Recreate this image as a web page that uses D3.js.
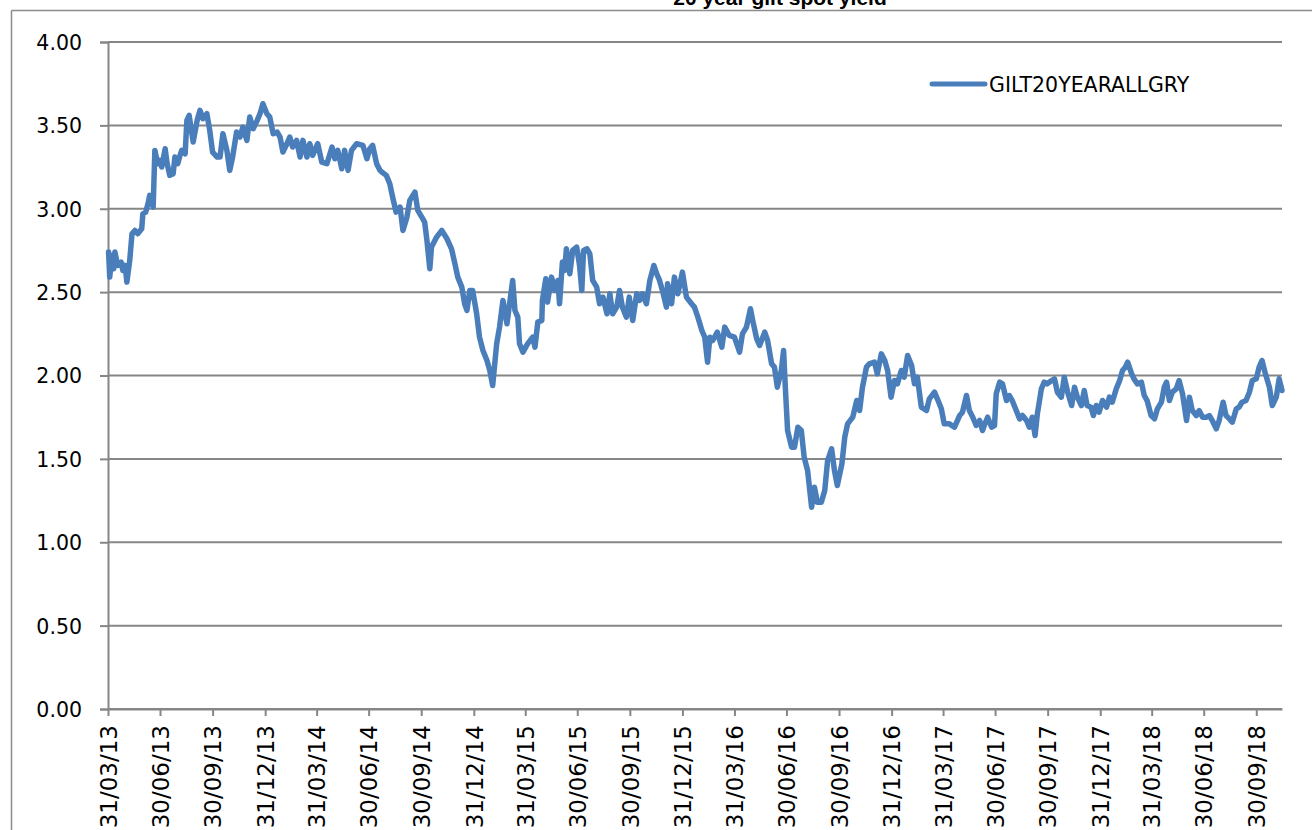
<!DOCTYPE html>
<html>
<head>
<meta charset="utf-8">
<script src="https://cdn.jsdelivr.net/npm/d3@7"></script>
<style>
  body { margin: 0; background: #fff; }
  svg { display: block; }
</style>
</head>
<body>
<div class="graphContainer"></div>
<script>
// 20 year gilt spot yield (roughly weekly)
var dates = [
  "2013-04-01","2013-04-03","2013-04-07","2013-04-10","2013-04-12","2013-04-17","2013-04-23","2013-04-26","2013-04-30",
  "2013-05-03","2013-05-08","2013-05-12","2013-05-17","2013-05-22","2013-05-29","2013-05-31",
  "2013-06-05","2013-06-09","2013-06-12","2013-06-18","2013-06-21","2013-06-26","2013-06-30",
  "2013-07-03","2013-07-09","2013-07-12","2013-07-17","2013-07-23","2013-07-26","2013-07-31",
  "2013-08-04","2013-08-07","2013-08-13","2013-08-16","2013-08-20","2013-08-27",
  "2013-09-03","2013-09-08","2013-09-13","2013-09-20","2013-09-25","2013-09-30",
  "2013-10-08","2013-10-13","2013-10-18","2013-10-25","2013-10-30",
  "2013-11-04","2013-11-11","2013-11-17","2013-11-22","2013-11-29",
  "2013-12-04","2013-12-10","2013-12-17","2013-12-22","2013-12-27",
  "2014-01-03","2014-01-08","2014-01-14","2014-01-21","2014-01-26","2014-01-31",
  "2014-02-07","2014-02-12","2014-02-17","2014-02-24",
  "2014-03-02","2014-03-07","2014-03-14","2014-03-19","2014-03-24",
  "2014-04-02","2014-04-09","2014-04-18","2014-04-27",
  "2014-05-02","2014-05-07","2014-05-14","2014-05-19","2014-05-25","2014-05-31",
  "2014-06-09","2014-06-20","2014-06-27",
  "2014-07-02","2014-07-07","2014-07-14","2014-07-20","2014-07-23","2014-07-31",
  "2014-08-06","2014-08-11","2014-08-17","2014-08-24","2014-08-29",
  "2014-09-05","2014-09-10","2014-09-19","2014-09-24",
  "2014-10-01","2014-10-06","2014-10-10","2014-10-15","2014-10-18","2014-10-27",
  "2014-11-05","2014-11-14","2014-11-22","2014-11-28",
  "2014-12-03","2014-12-10","2014-12-15","2014-12-19","2014-12-24","2014-12-29",
  "2015-01-05","2015-01-10","2015-01-16","2015-01-23","2015-01-28",
  "2015-02-02","2015-02-09","2015-02-14","2015-02-20","2015-02-27",
  "2015-03-09","2015-03-13","2015-03-18","2015-03-21","2015-03-27",
  "2015-04-04","2015-04-13","2015-04-17","2015-04-22","2015-04-29","2015-04-30",
  "2015-05-06","2015-05-09","2015-05-16","2015-05-22","2015-05-27","2015-05-30",
  "2015-06-04","2015-06-08","2015-06-11","2015-06-17","2015-06-22","2015-06-29",
  "2015-07-04","2015-07-08","2015-07-11","2015-07-17","2015-07-22","2015-07-27",
  "2015-08-03","2015-08-08","2015-08-14","2015-08-21","2015-08-26","2015-08-31",
  "2015-09-07","2015-09-12","2015-09-17","2015-09-24","2015-09-29",
  "2015-10-05","2015-10-12","2015-10-17","2015-10-22","2015-10-29",
  "2015-11-04","2015-11-11","2015-11-16","2015-11-21","2015-11-26",
  "2015-12-03","2015-12-05","2015-12-12","2015-12-17","2015-12-23","2015-12-31",
  "2016-01-07","2016-01-16","2016-01-21","2016-01-27",
  "2016-02-03","2016-02-08","2016-02-13","2016-02-17","2016-02-22",
  "2016-03-01","2016-03-09","2016-03-14","2016-03-22","2016-03-31",
  "2016-04-09","2016-04-14","2016-04-21","2016-04-28",
  "2016-05-02","2016-05-09","2016-05-14","2016-05-23","2016-05-28",
  "2016-06-04","2016-06-09","2016-06-14","2016-06-21","2016-06-25","2016-06-28",
  "2016-07-02","2016-07-09","2016-07-14","2016-07-20","2016-07-26","2016-07-31",
  "2016-08-06","2016-08-13","2016-08-18","2016-08-23","2016-08-30",
  "2016-09-05","2016-09-10","2016-09-17","2016-09-22","2016-09-27",
  "2016-10-05","2016-10-10","2016-10-15","2016-10-24","2016-10-31",
  "2016-11-05","2016-11-10","2016-11-17","2016-11-22",
  "2016-12-01","2016-12-06","2016-12-13","2016-12-19","2016-12-24","2016-12-30",
  "2017-01-05","2017-01-10","2017-01-17","2017-01-22","2017-01-28",
  "2017-02-04","2017-02-09","2017-02-14","2017-02-21",
  "2017-03-02","2017-03-07","2017-03-16","2017-03-21","2017-03-28",
  "2017-04-02","2017-04-11","2017-04-20","2017-04-29",
  "2017-05-04","2017-05-11","2017-05-16","2017-05-22","2017-05-28",
  "2017-06-03","2017-06-08","2017-06-11","2017-06-17","2017-06-24","2017-06-29",
  "2017-07-02","2017-07-08","2017-07-13","2017-07-20","2017-07-25","2017-07-30",
  "2017-08-06","2017-08-12","2017-08-17","2017-08-24","2017-08-29",
  "2017-09-03","2017-09-08","2017-09-12","2017-09-19","2017-09-24","2017-09-29",
  "2017-10-07","2017-10-12","2017-10-17","2017-10-24","2017-10-29",
  "2017-11-04","2017-11-11","2017-11-16","2017-11-21","2017-11-28",
  "2017-12-03","2017-12-08","2017-12-15","2017-12-19","2017-12-24","2017-12-29",
  "2018-01-04","2018-01-11","2018-01-16","2018-01-21","2018-01-28",
  "2018-02-03","2018-02-08","2018-02-13","2018-02-17","2018-02-24","2018-02-28",
  "2018-03-06","2018-03-13","2018-03-18","2018-03-23","2018-03-30",
  "2018-04-05","2018-04-10","2018-04-17","2018-04-22","2018-04-26",
  "2018-05-01","2018-05-06","2018-05-13","2018-05-18","2018-05-24","2018-05-31",
  "2018-06-05","2018-06-10","2018-06-17","2018-06-22","2018-06-28",
  "2018-07-05","2018-07-10","2018-07-15","2018-07-22","2018-07-27",
  "2018-08-03","2018-08-08","2018-08-14","2018-08-19","2018-08-26","2018-08-31",
  "2018-09-05","2018-09-12","2018-09-18","2018-09-23","2018-09-30",
  "2018-10-05","2018-10-10","2018-10-16","2018-10-23","2018-10-28",
  "2018-11-04","2018-11-09","2018-11-14"
];

var yields = [
  2.74,2.59,2.72,2.64,2.74,2.66,2.68,2.63,2.66,
  2.56,2.69,2.85,2.87,2.85,2.88,2.97,
  2.98,3.03,3.08,3.01,3.35,3.27,3.29,
  3.25,3.36,3.28,3.20,3.21,3.31,3.27,
  3.32,3.35,3.33,3.53,3.56,3.40,
  3.53,3.59,3.54,3.57,3.47,3.34,
  3.31,3.31,3.45,3.35,3.23,
  3.31,3.46,3.43,3.49,3.41,
  3.55,3.48,3.53,3.57,3.63,
  3.57,3.55,3.45,3.46,3.43,3.34,
  3.39,3.43,3.37,3.41,
  3.31,3.41,3.31,3.39,3.32,
  3.39,3.28,3.27,3.37,
  3.30,3.35,3.24,3.35,3.23,3.35,
  3.39,3.38,3.30,
  3.36,3.38,3.27,3.23,3.22,3.20,
  3.15,3.07,2.98,3.01,2.87,
  2.95,3.05,3.10,2.99,
  2.95,2.92,2.81,2.64,2.77,2.83,
  2.87,2.82,2.76,2.67,
  2.59,2.53,2.43,2.39,2.51,2.51,
  2.37,2.23,2.15,2.09,2.03,
  1.94,2.19,2.29,2.45,2.31,
  2.57,2.39,2.35,2.19,2.14,
  2.19,2.23,2.17,2.32,2.33,2.45,
  2.58,2.44,2.59,2.51,2.57,2.43,
  2.68,2.63,2.76,2.61,2.75,2.77,
  2.66,2.51,2.75,2.76,2.73,2.57,
  2.53,2.43,2.47,2.37,2.49,2.37,
  2.41,2.51,2.41,2.35,2.47,
  2.33,2.49,2.45,2.49,2.43,
  2.57,2.66,2.61,2.57,2.51,
  2.41,2.55,2.43,2.59,2.49,2.62,
  2.47,2.43,2.41,2.35,
  2.27,2.23,2.08,2.23,2.21,
  2.26,2.17,2.29,2.24,2.23,
  2.14,2.25,2.29,2.40,
  2.33,2.22,2.18,2.26,2.21,
  2.07,2.05,1.93,2.03,2.15,1.93,
  1.67,1.57,1.57,1.69,1.67,1.51,
  1.43,1.21,1.33,1.24,1.24,
  1.31,1.49,1.56,1.43,1.34,
  1.47,1.63,1.71,1.75,1.85,
  1.79,1.93,2.05,2.07,
  2.08,2.01,2.13,2.09,2.03,1.87,
  1.97,1.95,2.03,1.99,2.12,
  2.06,1.95,1.99,1.81,
  1.79,1.86,1.90,1.86,1.80,
  1.71,1.71,1.69,1.76,
  1.78,1.88,1.79,1.75,1.70,
  1.73,1.67,1.70,1.75,1.69,1.70,
  1.89,1.96,1.95,1.85,1.88,1.85,
  1.79,1.74,1.76,1.73,1.69,
  1.75,1.64,1.77,1.92,1.96,1.95,
  1.97,1.98,1.90,1.87,1.99,
  1.90,1.82,1.93,1.87,1.82,
  1.91,1.82,1.81,1.76,1.82,1.78,
  1.85,1.81,1.87,1.84,1.92,
  1.97,2.03,2.05,2.08,2.01,1.98,
  1.95,1.96,1.88,1.85,1.76,
  1.74,1.80,1.84,1.93,1.96,
  1.85,1.90,1.92,1.97,1.89,1.73,
  1.87,1.79,1.76,1.79,1.75,
  1.75,1.76,1.73,1.68,1.73,
  1.84,1.76,1.74,1.72,1.80,1.81,
  1.84,1.85,1.90,1.97,1.98,
  2.05,2.09,2.01,1.93,1.82,
  1.87,1.98,1.91
];

var tickLabels = [
  "31/03/13","30/06/13","30/09/13","31/12/13","31/03/14","30/06/14","30/09/14","31/12/14",
  "31/03/15","30/06/15","30/09/15","31/12/15","31/03/16","30/06/16","30/09/16","31/12/16",
  "31/03/17","30/06/17","30/09/17","31/12/17","31/03/18","30/06/18","30/09/18"
];
var yTicks = [0, 0.5, 1, 1.5, 2, 2.5, 3, 3.5, 4];
var seriesName = "GILT20YEARALLGRY";
var chartTitle = "20 year gilt spot yield";
var axisStart = "2013-03-31";
var axisEnd = "2018-11-14";

var width = 1312;
var height = 830;
var plotLeft = 108, plotRight = 1282, plotTop = 42, plotBottom = 709;
var gridColor = "#868686";
var lineColor = "#4a7ebb";
var font = "'DejaVu Sans', sans-serif";

var parseIso = d3.utcParse("%Y-%m-%d");
var parseTick = d3.utcParse("%d/%m/%y");

var data = dates.map((d, i) => ({ date: parseIso(d), value: yields[i] }));

var svg = d3
  .select(".graphContainer")
  .append("svg")
  .attr("width", width)
  .attr("height", height);

// chart frame (top and left edges visible)
svg.append("line")
  .attr("x1", 11.5).attr("x2", width)
  .attr("y1", 10.5).attr("y2", 10.5)
  .attr("stroke", "#8c8c8c").attr("stroke-width", 1.5);
svg.append("line")
  .attr("x1", 11.5).attr("x2", 11.5)
  .attr("y1", 10.5).attr("y2", height)
  .attr("stroke", "#8c8c8c").attr("stroke-width", 1.5);

// title, mostly cut off at the top
svg.append("text")
  .attr("x", 780)
  .attr("y", 5)
  .attr("text-anchor", "middle")
  .style("font-family", "'Liberation Sans', Arial, sans-serif")
  .style("font-weight", "bold")
  .style("font-size", "21px")
  .text(chartTitle);

var xScale = d3.scaleUtc()
  .domain([parseIso(axisStart), parseIso(axisEnd)])
  .range([plotLeft, plotRight]);

var yScale = d3.scaleLinear().domain([0, 4]).range([plotBottom, plotTop]);

// horizontal gridlines
svg.append("g")
  .selectAll("line")
  .data(yTicks)
  .enter()
  .append("line")
  .attr("x1", plotLeft)
  .attr("x2", plotRight)
  .attr("y1", (d) => yScale(d))
  .attr("y2", (d) => yScale(d))
  .attr("stroke", gridColor)
  .attr("stroke-width", 2);

// y axis
var yAxis = d3.axisLeft(yScale)
  .tickValues(yTicks)
  .tickFormat(d3.format(".2f"))
  .tickSize(8)
  .tickPadding(18);

var yAxisGroup = svg.append("g")
  .attr("transform", "translate(" + plotLeft + ",0)")
  .call(yAxis);
yAxisGroup.select(".domain").attr("stroke", gridColor).attr("stroke-width", 2);
yAxisGroup.selectAll(".tick line").attr("stroke", gridColor).attr("stroke-width", 2);
yAxisGroup.selectAll(".tick text")
  .style("font-family", font)
  .style("font-size", "20.5px")
  .attr("fill", "#000")
  .attr("dy", "0.36em");

// x axis
var xAxis = d3.axisBottom(xScale)
  .tickValues(tickLabels.map((t) => parseTick(t)))
  .tickFormat(d3.utcFormat("%d/%m/%y"))
  .tickSize(7)
  .tickSizeOuter(0);

var xAxisGroup = svg.append("g")
  .attr("transform", "translate(0," + plotBottom + ")")
  .call(xAxis);
xAxisGroup.select(".domain").attr("stroke", gridColor).attr("stroke-width", 2);
xAxisGroup.selectAll(".tick line").attr("stroke", gridColor).attr("stroke-width", 2);
xAxisGroup.selectAll(".tick text")
  .style("font-family", font)
  .style("font-size", "23px")
  .attr("fill", "#000")
  .attr("text-anchor", "end")
  .attr("transform", "translate(0,16) rotate(-90)")
  .attr("x", 0)
  .attr("y", 0)
  .attr("dy", "0.36em");

// the series
var line = d3.line()
  .x((d) => xScale(d.date))
  .y((d) => yScale(d.value));

svg.append("path")
  .datum(data)
  .attr("d", line)
  .attr("fill", "none")
  .attr("stroke", lineColor)
  .attr("stroke-width", 5.5)
  .attr("stroke-linejoin", "round")
  .attr("stroke-linecap", "round");

// legend
svg.append("line")
  .attr("x1", 932).attr("x2", 985)
  .attr("y1", 84).attr("y2", 84)
  .attr("stroke", lineColor)
  .attr("stroke-width", 5)
  .attr("stroke-linecap", "round");
svg.append("text")
  .attr("x", 989)
  .attr("y", 91.5)
  .style("font-family", font)
  .style("font-size", "20.5px")
  .text(seriesName);
</script>
</body>
</html>
